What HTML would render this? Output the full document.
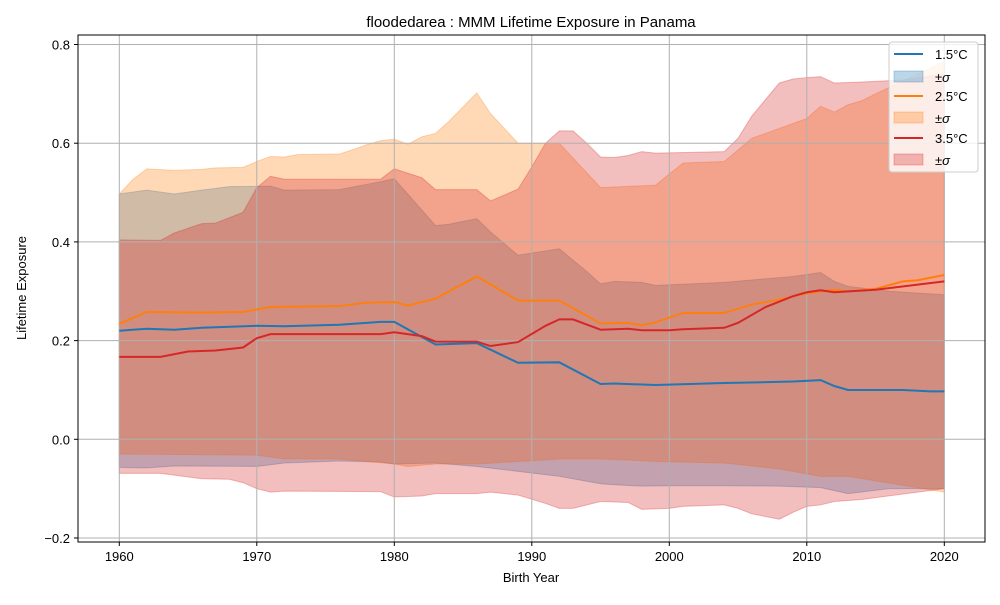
<!DOCTYPE html>
<html><head><meta charset="utf-8"><style>
body{margin:0;background:#fff;}
svg text{font-family:"Liberation Sans","DejaVu Sans",sans-serif;}
</style></head><body>
<svg id="chart" width="1000" height="600" xmlns="http://www.w3.org/2000/svg">
<rect width="1000" height="600" fill="#fff"/>
<text x="531" y="27" font-size="15" text-anchor="middle">floodedarea : MMM Lifetime Exposure in Panama</text>
<g id="bands"></g>
<g id="grid"></g>
<g id="lines"></g>
<rect x="78" y="35" width="907" height="507" fill="none" stroke="#000" stroke-width="1"/>
<g id="ticks"></g>
<text x="531" y="582" font-size="13" text-anchor="middle">Birth Year</text>
<text transform="translate(26,288) rotate(-90)" font-size="13" text-anchor="middle">Lifetime Exposure</text>
<g>
<rect x="889" y="42" width="89" height="130" rx="3" fill="#fff" fill-opacity="0.8" stroke="#ccc"/>
<line x1="894" y1="54" x2="923" y2="54" stroke="#1f77b4" stroke-width="2"/>
<text x="935" y="59" font-size="13">1.5°C</text>
<rect x="894" y="71" width="29" height="11" fill="#1f77b4" fill-opacity="0.3" stroke="#1f77b4" stroke-opacity="0.3"/>
<text x="935" y="82" font-size="13">±<tspan font-style="italic">σ</tspan></text>
<line x1="894" y1="96" x2="923" y2="96" stroke="#ff7f0e" stroke-width="2"/>
<text x="935" y="101" font-size="13">2.5°C</text>
<rect x="894" y="112" width="29" height="11" fill="#ff7f0e" fill-opacity="0.3" stroke="#ff7f0e" stroke-opacity="0.3"/>
<text x="935" y="123" font-size="13">±<tspan font-style="italic">σ</tspan></text>
<line x1="894" y1="138" x2="923" y2="138" stroke="#d62728" stroke-width="2"/>
<text x="935" y="143" font-size="13">3.5°C</text>
<rect x="894" y="154" width="29" height="11" fill="#d62728" fill-opacity="0.3" stroke="#d62728" stroke-opacity="0.3"/>
<text x="935" y="165" font-size="13">±<tspan font-style="italic">σ</tspan></text>
</g>
</svg>
<script>
const xTicks=[1960,1970,1980,1990,2000,2010,2020];
const yTicks=[-0.2,0,0.2,0.4,0.6,0.8];
const yTickLabels=["−0.2","0.0","0.2","0.4","0.6","0.8"];

const meanYears15=[1960,1962,1964,1966,1970,1972,1976,1979,1980,1983,1986,1989,1992,1995,1996,1999,2004,2009,2011,2012,2013,2017,2019,2020];
const mean15=[.220,.224,.222,.226,.230,.229,.232,.238,.238,.192,.195,.155,.156,.112,.113,.110,.114,.117,.120,.108,.100,.100,.097,.097];
const upYears15=[1960,1962,1964,1966,1968,1971,1972,1976,1979,1980,1983,1984,1986,1987,1989,1992,1994,1995,1996,1998,1999,2004,2009,2011,2012,2013,2016,2020];
const up15=[.497,.505,.497,.505,.512,.513,.505,.506,.522,.528,.433,.436,.447,.420,.373,.386,.340,.315,.320,.318,.312,.318,.330,.338,.320,.310,.300,.293];
const loYears15=[1960,1962,1964,1970,1972,1976,1979,1980,1983,1986,1989,1992,1995,1996,1998,2000,2004,2008,2011,2013,2016,2020];
const lo15=[-.057,-.058,-.054,-.055,-.048,-.044,-.046,-.050,-.048,-.055,-.065,-.075,-.090,-.092,-.095,-.094,-.094,-.095,-.098,-.110,-.100,-.100];

const meanYears25=[1960,1962,1966,1969,1971,1976,1978,1980,1981,1983,1986,1989,1992,1995,1997,1998,1999,2001,2004,2006,2008,2010,2012,2013,2015,2017,2018,2020];
const mean25=[.234,.258,.257,.258,.268,.270,.277,.278,.271,.285,.330,.281,.281,.235,.236,.231,.237,.256,.256,.273,.283,.296,.303,.300,.305,.320,.322,.333];
const upYears25=[1960,1961,1962,1964,1966,1967,1969,1970,1971,1972,1973,1976,1977,1978,1979,1980,1981,1982,1983,1984,1986,1987,1989,1992,1995,1999,2001,2004,2006,2010,2011,2012,2013,2014,2015,2020];
const up25=[.497,.527,.548,.545,.547,.550,.551,.563,.573,.572,.577,.578,.587,.597,.605,.608,.598,.613,.620,.645,.702,.660,.600,.600,.510,.515,.560,.563,.610,.650,.675,.663,.678,.686,.700,.765];
const loYears25=[1960,1970,1972,1976,1980,1981,1983,1986,1989,1992,1995,1997,1999,2004,2008,2011,2013,2020];
const lo25=[-.030,-.032,-.040,-.040,-.050,-.055,-.050,-.050,-.045,-.040,-.040,-.042,-.045,-.048,-.060,-.075,-.075,-.107];

const meanYears35=[1960,1963,1965,1967,1969,1970,1971,1979,1980,1982,1983,1986,1987,1989,1991,1992,1993,1995,1997,1998,2000,2001,2004,2005,2007,2009,2010,2011,2012,2015,2020];
const mean35=[.167,.167,.178,.180,.186,.205,.213,.213,.217,.209,.198,.198,.189,.197,.230,.243,.243,.222,.224,.221,.221,.223,.226,.236,.268,.290,.298,.302,.298,.303,.320];
const upYears35=[1960,1963,1964,1966,1967,1969,1970,1971,1972,1979,1980,1982,1983,1986,1987,1989,1990,1991,1992,1993,1994,1995,1996,1997,1998,1999,2004,2005,2006,2008,2009,2010,2011,2012,2014,2017,2020];
const up35=[.404,.403,.418,.437,.438,.460,.510,.533,.527,.527,.548,.530,.506,.506,.483,.507,.552,.600,.625,.625,.600,.572,.571,.575,.583,.580,.583,.610,.655,.722,.730,.733,.735,.722,.724,.728,.740];
const loYears35=[1960,1963,1966,1968,1969,1970,1971,1972,1979,1980,1982,1983,1986,1987,1989,1991,1992,1993,1995,1997,1998,2000,2001,2004,2005,2006,2008,2009,2010,2011,2012,2014,2020];
const lo35=[-.069,-.069,-.080,-.081,-.088,-.100,-.107,-.105,-.106,-.117,-.115,-.110,-.110,-.107,-.113,-.130,-.140,-.140,-.126,-.128,-.142,-.140,-.136,-.133,-.140,-.151,-.162,-.148,-.136,-.133,-.126,-.122,-.100];

const NS='http://www.w3.org/2000/svg';
const X=v=>119.3+(v-1960)*13.75;
const Y=v=>439.3-v*493.5;
function mk(tag,attrs,parent){const e=document.createElementNS(NS,tag);for(const k in attrs)e.setAttribute(k,attrs[k]);parent.appendChild(e);return e;}
const grid=document.getElementById('grid'),ticks=document.getElementById('ticks');
xTicks.forEach(t=>{
  const g=mk('line',{x1:X(t),x2:X(t),y1:35,y2:542,stroke:'#b0b0b0','stroke-width':1},grid);
  
  
  mk('line',{x1:X(t),x2:X(t),y1:542,y2:546,stroke:'#000'},ticks);
  const tx=mk('text',{x:X(t),y:561,'font-size':13,'text-anchor':'middle'},ticks);
  tx.textContent=t;
  
  
});
yTicks.forEach((t,i)=>{
  const g=mk('line',{x1:78,x2:985,y1:Y(t),y2:Y(t),stroke:'#b0b0b0','stroke-width':1},grid);
  
  
  mk('line',{x1:74,x2:78,y1:Y(t),y2:Y(t),stroke:'#000'},ticks);
  const tx=mk('text',{x:70,y:Y(t)+5,'font-size':13,'text-anchor':'end'},ticks);
  tx.textContent=yTickLabels[i];
  
  
});
const bands=document.getElementById('bands'),lines=document.getElementById('lines');
function band(uy,u,ly,l,c,name){
  let d='M'+uy.map((y,i)=>X(y)+','+Y(u[i])).join('L');
  for(let i=ly.length-1;i>=0;i--)d+='L'+X(ly[i])+','+Y(l[i]);
  const p=mk('path',{d:d+'Z',fill:c,'fill-opacity':0.3,stroke:c,'stroke-opacity':0.3},bands);
  
  
}
function line(ys,v,c,name){
  const p=mk('polyline',{points:ys.map((y,i)=>X(y)+','+Y(v[i])).join(' '),fill:'none',stroke:c,'stroke-width':2},lines);
  
  
}
band(upYears15,up15,loYears15,lo15,'#1f77b4','band-1-5c');
band(upYears25,up25,loYears25,lo25,'#ff7f0e','band-2-5c');
band(upYears35,up35,loYears35,lo35,'#d62728','band-3-5c');
line(meanYears15,mean15,'#1f77b4','line-1-5c');
line(meanYears25,mean25,'#ff7f0e','line-2-5c');
line(meanYears35,mean35,'#d62728','line-3-5c');
</script>
</body></html>
